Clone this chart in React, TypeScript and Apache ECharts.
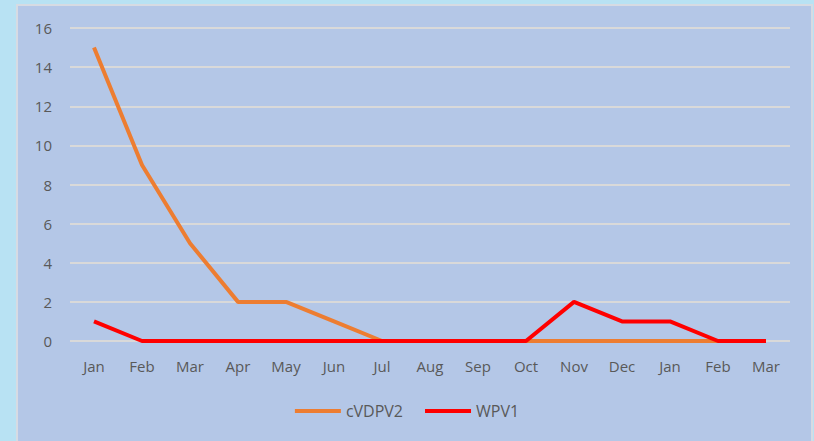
import React, { useEffect, useRef } from "react";
import * as echarts from "echarts";

const months = ["Jan", "Feb", "Mar", "Apr", "May", "Jun", "Jul", "Aug", "Sep", "Oct", "Nov", "Dec", "Jan", "Feb", "Mar"];
const cVDPV2 = [15, 9, 5, 2, 2, 1, 0, 0, 0, 0, 0, 0, 0, 0, 0];
const WPV1 = [1, 0, 0, 0, 0, 0, 0, 0, 0, 0, 2, 1, 1, 0, 0];

export default function App() {
  const ref = useRef<HTMLDivElement>(null);
  useEffect(() => {
    document.body.style.margin = "0";
    const chart = echarts.init(ref.current!, null, { renderer: "svg" });
    const font = "'Open Sans', 'Liberation Sans', sans-serif";
    chart.setOption({
      animation: false,
      backgroundColor: "#b8e2f3",
      graphic: [
        {
          type: "rect",
          z: -10,
          silent: true,
          shape: { x: 17, y: 5, width: 795, height: 445 },
          style: { fill: "#b4c7e7", stroke: "#d6dbe3", lineWidth: 2 },
        },
      ],
      grid: { left: 70, right: 24, top: 28, bottom: 100, containLabel: false },
      legend: {
        bottom: 17,
        left: "center",
        itemWidth: 46,
        itemHeight: 4,
        itemGap: 22,
        icon: "rect",
        textStyle: { color: "#595959", fontSize: 16, fontFamily: font },
        data: ["cVDPV2", "WPV1"],
      },
      xAxis: {
        type: "category",
        data: months,
        boundaryGap: true,
        axisLine: { show: false },
        axisTick: { show: false },
        axisLabel: { color: "#595959", fontSize: 15, fontFamily: font, margin: 17, interval: 0 },
      },
      yAxis: {
        type: "value",
        min: 0,
        max: 16,
        interval: 2,
        axisLine: { show: false },
        axisTick: { show: false },
        axisLabel: { color: "#595959", fontSize: 15, fontFamily: font, margin: 18 },
        splitLine: { lineStyle: { color: "#d9d9d9", width: 2 } },
      },
      series: [
        {
          name: "cVDPV2",
          type: "line",
          data: cVDPV2,
          symbol: "none",
          lineStyle: { color: "#ed7d31", width: 4 },
          itemStyle: { color: "#ed7d31" },
          z: 2,
        },
        {
          name: "WPV1",
          type: "line",
          data: WPV1,
          symbol: "none",
          lineStyle: { color: "#ff0000", width: 4 },
          itemStyle: { color: "#ff0000" },
          z: 3,
        },
      ],
    });
    return () => chart.dispose();
  }, []);
  return <div ref={ref} style={{ width: 814, height: 441 }} />;
}
